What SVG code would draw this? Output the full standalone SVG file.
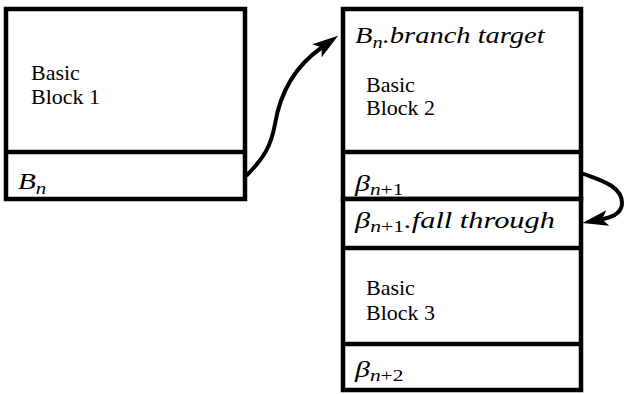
<svg xmlns="http://www.w3.org/2000/svg" width="626" height="394" viewBox="0 0 626 394" font-family="'Liberation Serif', 'DejaVu Serif', serif">
  <style>
    .box { fill: #fff; stroke: #000; stroke-width: 4.5; }
    .div { stroke: #000; stroke-width: 4.5; }
    text { font-family: 'Liberation Serif', 'DejaVu Serif', serif; }
    .lbl { font-size: 22px; fill: #000; }
    .math { font-size: 23px; font-style: italic; fill: #000; }
    .sub { font-size: 16.5px; }
    .up { font-style: normal; }
    .edge { fill: none; stroke: #000; stroke-width: 4; stroke-linecap: round; }
  </style>
  <defs>
    <marker id="head" markerUnits="userSpaceOnUse" markerWidth="26" markerHeight="16" viewBox="0 0 26 16" refX="5" refY="8" orient="auto">
      <path d="M0,0 L26,8 L0,16 L6,8 Z" fill="#000"/>
    </marker>
  </defs>

  <!-- Basic block 1 with its branch instruction -->
  <g id="block1">
    <rect class="box" x="6" y="9" width="239" height="190"/>
    <line class="div" x1="6" y1="152" x2="245" y2="152"/>
    <text class="lbl" x="31" y="80">Basic</text>
    <text class="lbl" x="31" y="104">Block 1</text>
    <text class="math" transform="translate(18,189) scale(1.27,1)">B<tspan class="sub" dy="5">n</tspan></text>
  </g>

  <!-- Basic block 2: branch target, ends with next branch -->
  <g id="block2">
    <rect class="box" x="343" y="9" width="238" height="190"/>
    <line class="div" x1="343" y1="152" x2="581" y2="152"/>
    <text class="math" transform="translate(355,43) scale(1.24,1)">B<tspan class="sub" dy="5">n</tspan><tspan dy="-5">.branch target</tspan></text>
    <text class="lbl" x="366" y="92">Basic</text>
    <text class="lbl" x="366" y="115">Block 2</text>
    <text class="math" transform="translate(355,191) scale(1.3,1)">β<tspan class="sub" dy="4">n<tspan class="up">+1</tspan></tspan></text>
  </g>

  <!-- Basic block 3: fall-through successor -->
  <g id="block3">
    <rect class="box" x="343" y="199" width="238" height="191"/>
    <line class="div" x1="343" y1="248" x2="581" y2="248"/>
    <line class="div" x1="343" y1="344" x2="581" y2="344"/>
    <text class="math" transform="translate(355,228) scale(1.32,1)">β<tspan class="sub" dy="4">n<tspan class="up">+1</tspan></tspan><tspan dy="-4">.fall through</tspan></text>
    <text class="lbl" x="366" y="295">Basic</text>
    <text class="lbl" x="366" y="320">Block 3</text>
    <text class="math" transform="translate(355,377) scale(1.3,1)">β<tspan class="sub" dy="4">n<tspan class="up">+2</tspan></tspan></text>
  </g>

  <!-- Control-flow edges -->
  <g id="edges">
    <path class="edge" marker-end="url(#head)" d="M247,175 C264,158 271,146 275,124 C279,100 290,70 321,48"/>
    <path class="edge" marker-end="url(#head)" d="M584,174 C600,180 622,186 622,203 C622,213 613,217 603,219"/>
  </g>
</svg>
